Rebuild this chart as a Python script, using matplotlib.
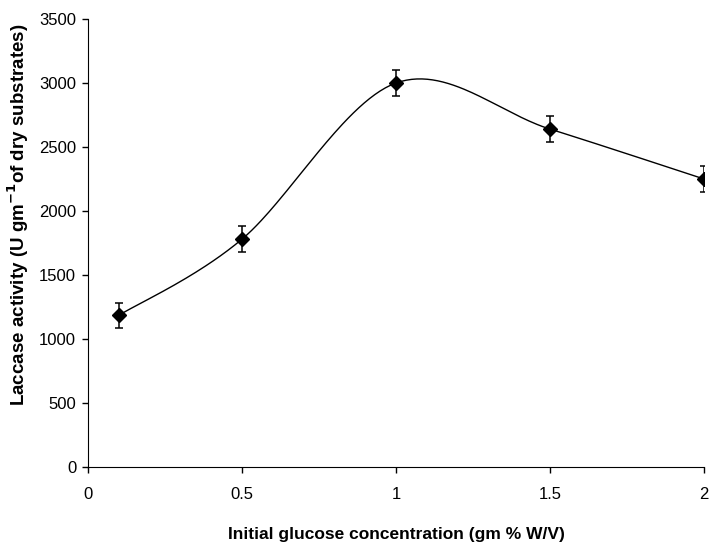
import matplotlib.pyplot as plt
import numpy as np

glucose = [0.1, 0.5, 1.0, 1.5, 2.0]
laccase = [1185, 1780, 3000, 2640, 2250]
errors = [100, 100, 100, 100, 100]

plt.rcParams['font.family'] = ['Liberation Sans', 'DejaVu Sans']


def excel_smooth(x, y, n=60):
    # Bezier smoothing similar to a spreadsheet "smoothed line"
    p = np.column_stack([x, y]).astype(float)
    ext = np.vstack([p[0], p, p[-1]])
    xs, ys = [], []
    t = np.linspace(0, 1, n)[:, None]
    for i in range(len(p) - 1):
        p0, p1 = ext[i + 1], ext[i + 2]
        c1 = p0 + (ext[i + 2] - ext[i]) / 6
        c2 = p1 - (ext[i + 3] - ext[i + 1]) / 6
        seg = ((1 - t) ** 3) * p0 + 3 * ((1 - t) ** 2) * t * c1 + 3 * (1 - t) * t ** 2 * c2 + t ** 3 * p1
        xs.extend(seg[:, 0])
        ys.extend(seg[:, 1])
    return xs, ys


fig = plt.figure(figsize=(7.11, 5.48), dpi=100)
ax = fig.add_axes([88 / 711, 1 - 467 / 548, 616 / 711, 448 / 548])

sx, sy = excel_smooth(glucose, laccase)
ax.plot(sx, sy, color='black', lw=1.0)
ax.errorbar(glucose, laccase, yerr=errors, fmt='D', color='black', ms=7,
            ecolor='black', elinewidth=1.1, capsize=3, capthick=1.1)

ax.set_xlim(0, 2)
ax.set_ylim(0, 3500)
ax.set_xticks([0, 0.5, 1, 1.5, 2])
ax.set_xticklabels(['0', '0.5', '1', '1.5', '2'])
ax.set_yticks(np.arange(0, 3501, 500))
ax.tick_params(direction='out', length=4.5, width=1, labelsize=12)
ax.tick_params(axis='x', pad=10)
ax.tick_params(axis='y', pad=4)
ax.spines['top'].set_visible(False)
ax.spines['right'].set_visible(False)

ax.set_xlabel('Initial glucose concentration (gm % W/V)', fontsize=12.5,
              fontweight='bold')
ax.set_ylabel(r'Laccase activity (U gm$^{\mathbf{-1}}$of dry substrates)', fontsize=13.5,
              fontweight='bold')
ax.xaxis.set_label_coords(0.5, -0.135)
ax.yaxis.set_label_coords(-0.092, 0.5625)

fig.savefig('out.png', dpi=100)
